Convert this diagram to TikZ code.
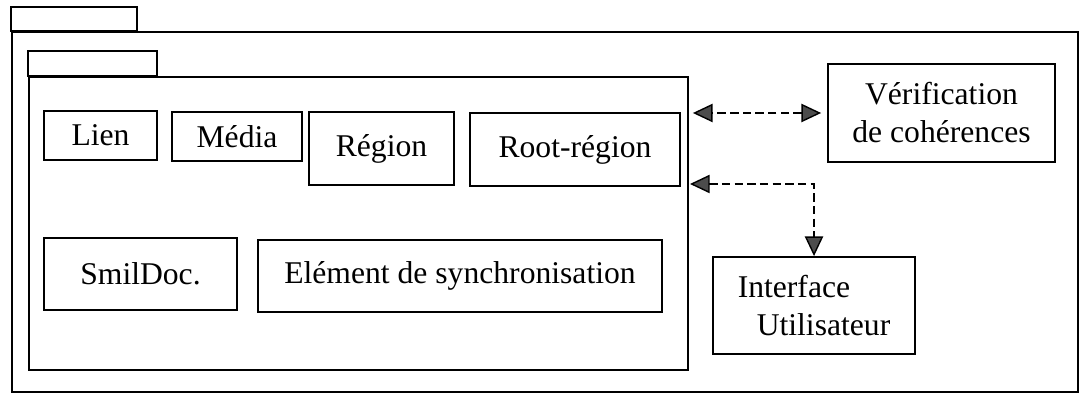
\documentclass[tikz,border=0pt]{standalone}
\usepackage{fontspec}
\setmainfont{Liberation Serif}
\usetikzlibrary{arrows.meta}
\begin{document}
\begin{tikzpicture}[
  line width=1.3pt,
  font=\fontsize{22.5}{27}\selectfont,
  box/.style={draw, rectangle, inner sep=0pt, align=center},
  dep/.style={dashed, dash pattern=on 6pt off 3pt, line width=1pt, {Triangle[length=14pt,width=13pt,fill=black!70]}-{Triangle[length=14pt,width=13pt,fill=black!70]}}
]
\useasboundingbox (0,0) rectangle (27,9.85);
% outer package with its tab
\node[box, minimum width=26.65cm, minimum height=9cm] (outer) at (13.625,4.55) {};
\draw (outer.north west) rectangle ++(3.15,0.6);
% inner package with its tab
\node[box, minimum width=16.475cm, minimum height=7.325cm] (inner) at (8.9625,4.2625) {};
\draw (inner.north west) rectangle ++(3.225,0.625);
% classes of the inner package
\node[box, minimum width=2.825cm, minimum height=1.225cm] (lien) at (2.5125,6.4625) {Lien};
\node[box, minimum width=3.25cm, minimum height=1.225cm] (media) at (5.925,6.4375) {Média};
\node[box, minimum width=3.625cm, minimum height=1.825cm] (region) at (9.5375,6.1375) {Région};
\node[box, minimum width=5.25cm, minimum height=1.825cm] (rootregion) at (14.375,6.1125) {Root-région};
\node[box, minimum width=4.825cm, minimum height=1.8cm] (smildoc) at (3.5125,3.0) {SmilDoc.};
\node[box, minimum width=10.1cm, minimum height=1.8cm] (sync) at (11.5,2.95) {Elément de synchronisation};
% packages outside
\node[box, minimum width=5.675cm, minimum height=2.45cm] (verif) at (23.5375,7.025) {Vérification\\de cohérences};
\node[box, minimum width=5.05cm, minimum height=2.425cm, align=left] (ui) at (20.35,2.2125) {Interface\\\hspace*{0.475cm}Utilisateur};
% dependencies
\coordinate (uiport) at (17.2,5.25);
\draw[dep, shorten <=0.15cm, shorten >=0.1cm] (verif.west) -- (verif.west -| inner.east);
\draw[dep, shorten <=0.05cm] (uiport) -| (ui.north);
\end{tikzpicture}
\end{document}
